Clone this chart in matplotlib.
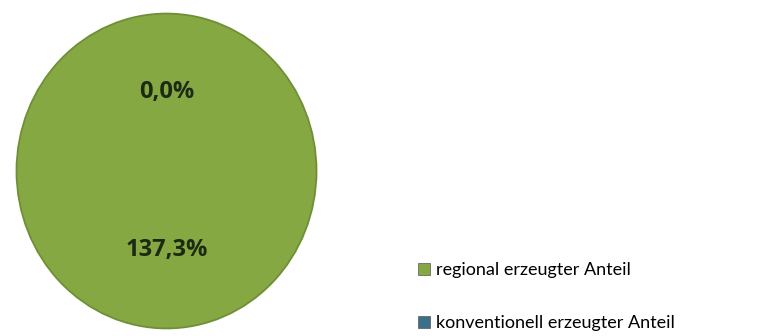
import matplotlib.pyplot as plt
from matplotlib.patches import Patch, Circle

plt.rcParams['font.family'] = ['Lato', 'DejaVu Sans']

# data
labels = ['regional erzeugter Anteil', 'konventionell erzeugter Anteil']
values = [137.3, 0.0]
colors = ['#86a843', '#3b7089']

fig = plt.figure(figsize=(7.63, 3.36), dpi=100)
ax = fig.add_axes([15 / 763, 6 / 336, 303 / 763, 318 / 336])

wedges, texts, autotexts = ax.pie(values, colors=colors, startangle=90, counterclock=False,
                                  autopct='%1.1f%%', pctdistance=0.5,
                                  wedgeprops=dict(linewidth=0))
for t, v in zip(autotexts, values):
    t.set_text(('%.1f%%' % v).replace('.', ','))
    t.set_family(['Open Sans', 'DejaVu Sans'])
    t.set_fontsize(17)
    t.set_fontweight('bold')
    t.set_color('#1c2a12')

# outer rim
ax.add_patch(Circle((0, 0), 1, fill=False, edgecolor='#6f8f36', linewidth=1.3))

ax.set_aspect('auto')
ax.set_xlim(-1.01, 1.01)
ax.set_ylim(-1.01, 1.01)

handles = [Patch(facecolor=c, edgecolor='#555555', linewidth=0.5) for c in colors]
fig.legend(handles, labels, loc='upper left', bbox_to_anchor=(402 / 763, (336 - 246) / 336),
           frameon=False, fontsize=13, handlelength=0.65, handleheight=0.65,
           handletextpad=0.35, labelspacing=2.05)

fig.savefig('out.png', dpi=100)
